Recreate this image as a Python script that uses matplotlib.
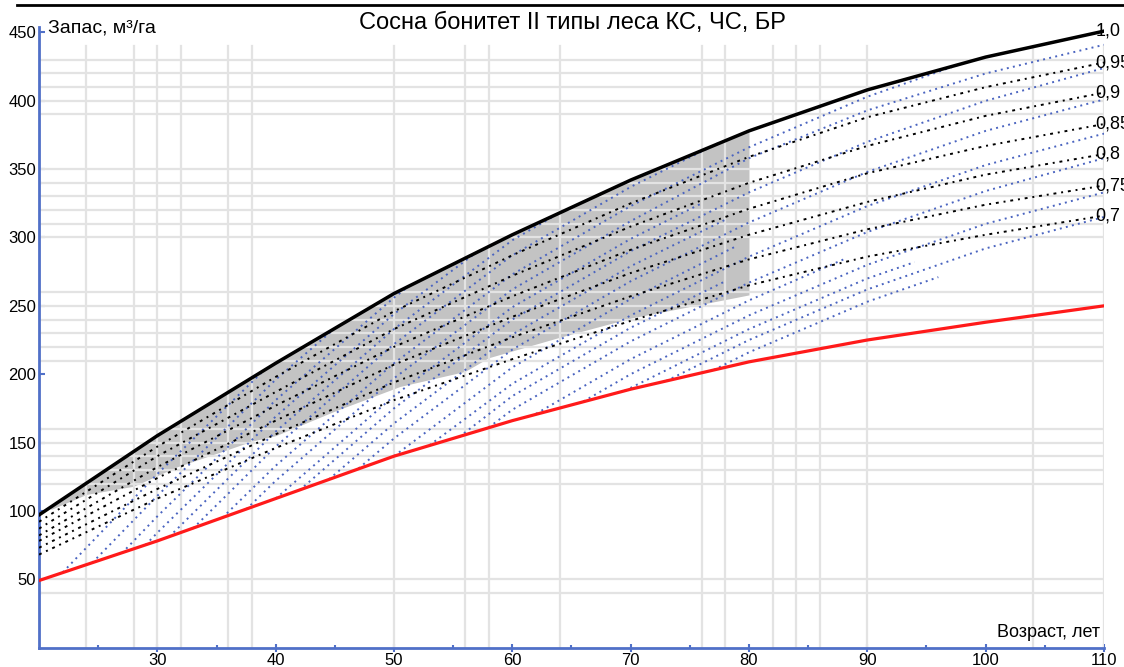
import numpy as np
import matplotlib.pyplot as plt
from matplotlib.lines import Line2D

plt.rcParams['font.family'] = ['Liberation Sans', 'DejaVu Sans']

# возраст, лет
ages = [20, 30, 40, 50, 60, 70, 80, 90, 100, 110]

# запас при полноте 1,0 и пониженных полнотах
full_10 = [97, 155, 208, 259, 302, 342, 378, 408, 432, 451]
full_095 = [92, 147, 198, 246, 287, 325, 359, 388, 410, 428]
full_090 = [87, 140, 187, 233, 272, 308, 340, 367, 389, 406]
full_085 = [82, 132, 177, 220, 257, 291, 321, 347, 367, 383]
full_080 = [78, 124, 166, 207, 242, 274, 302, 326, 346, 361]
full_075 = [73, 116, 156, 194, 227, 257, 284, 306, 324, 338]
full_070 = [68, 109, 146, 181, 211, 239, 265, 286, 302, 316]
density_labels = ['1,0', '0,95', '0,9', '0,85', '0,8', '0,75', '0,7']

# минимально допустимый запас
min_stock = [49, 78, 109, 140, 166, 189, 209, 225, 238, 250]

# нижняя граница зоны оптимальной полноты
zone_ages = [21, 24, 28, 31.6, 36, 38, 40, 45, 50.5, 56, 58, 64, 70, 80]
zone_low = [101, 112, 118, 132, 145, 151, 155, 173, 191, 202, 212, 227, 241, 258]

# рост запаса после рубок ухода
thin_ages = [
    [22, 30, 38.8],
    [24.5, 30, 40, 44.8],
    [27, 30, 40, 50, 51.2],
    [29, 30, 40, 50, 56.8],
    [31, 40, 50, 60, 64.4],
    [33, 40, 50, 60, 70, 77.4],
    [35.5, 40, 50, 60, 70, 80, 90, 97.9],
    [37.5, 40, 50, 60, 70, 80, 90, 100, 110],
    [40, 50, 60, 70, 76],
    [42, 50, 60, 70, 80, 90, 100, 110],
    [44.5, 50, 60, 70, 78],
    [47, 50, 60, 70, 80, 90, 100, 110],
    [50, 60, 70, 79],
    [53, 60, 70, 80, 90, 100, 110],
    [55.5, 60, 70, 78],
    [58, 60, 70, 80, 90, 100, 110],
    [62, 70, 80, 88],
    [66, 70, 80, 90, 100, 110],
    [69.5, 70, 80, 90, 94],
    [73, 80, 90, 100, 110],
    [77, 80, 90, 96],
]
thin_vals = [
    [55, 127, 201],
    [62, 111, 196, 232],
    [69, 96, 181, 256, 264],
    [75, 84, 169, 244, 288],
    [81, 158, 233, 298, 320],
    [87, 147, 222, 287, 337, 369],
    [95, 133, 208, 273, 323, 366, 403, 427],
    [101, 122, 197, 262, 312, 358, 393, 420, 441],
    [109, 184, 249, 299, 325],
    [115, 175, 240, 290, 333, 370, 400, 424],
    [123, 164, 229, 279, 313],
    [131, 153, 218, 268, 311, 348, 378, 401],
    [140, 205, 255, 294],
    [148, 193, 243, 286, 323, 353, 376],
    [154, 184, 234, 268],
    [161, 174, 224, 267, 304, 334, 358],
    [171, 211, 254, 284],
    [180, 200, 243, 280, 310, 333],
    [188, 190, 233, 270, 282],
    [195, 225, 262, 292, 315],
    [203, 216, 253, 271],
]

grid_x = [24, 28, 30, 32, 36, 38, 50, 56, 58, 64, 76, 78, 82, 84, 86, 90, 104, 110]
grid_y = [40, 50, 120, 130, 140, 150, 160, 210, 220, 230, 240, 250, 260,
          300, 310, 320, 330, 340, 350, 390, 400, 410, 420, 430]

axis_blue = '#5070c8'
dot_blue = '#4a64c0'

fig = plt.figure(figsize=(11.24, 6.67), dpi=100)
ax = fig.add_axes([0.0347, 0.0292, 0.9475, 0.9303])
ax.set_xlim(20, 110)
ax.set_ylim(0, 454)

# зона оптимальной полноты
zone_top = np.interp(zone_ages, ages, full_10)
ax.fill_between(zone_ages, zone_low, zone_top, color='#c3c3c3', lw=0, zorder=1)

for gx in grid_x:
    ax.axvline(gx, ymax=0.97, color='#e3e3e3', lw=1.6, zorder=2)
for gy in grid_y:
    ax.axhline(gy, color='#e3e3e3', lw=1.6, zorder=2)

for xs, ys in zip(thin_ages, thin_vals):
    ax.plot(xs, ys, color=dot_blue, lw=1.4, ls=(0, (1, 2.2)), zorder=3)

lower = [full_095, full_090, full_085, full_080, full_075, full_070]
for ys in lower:
    ax.plot(ages, ys, color='black', lw=1.4, ls=(0, (1.5, 2.5, 1, 2.5)), zorder=4)

ax.plot(ages, full_10, color='black', lw=2.5, zorder=5)
ax.plot(ages, min_stock, color='#ff1a1a', lw=2.3, zorder=5)

for lab, ys in zip(density_labels, [full_10] + lower):
    ax.text(109.3, ys[-1], lab, fontsize=13, ha='left', va='center',
            clip_on=False, zorder=6)

for side in ['top', 'right']:
    ax.spines[side].set_visible(False)
for side in ['left', 'bottom']:
    ax.spines[side].set_color(axis_blue)
    ax.spines[side].set_linewidth(2)

ax.set_xticks(range(30, 111, 10))
ax.set_xticks(range(25, 110, 10), minor=True)
ax.set_yticks(range(50, 451, 50))
ax.set_yticks([40, 120, 140, 160, 340, 420], minor=True)
ax.tick_params(axis='x', which='major', direction='inout', length=6, width=1.5,
               color=axis_blue, labelsize=12, pad=1)
ax.tick_params(axis='y', which='major', direction='in', length=4, width=1.5,
               color=axis_blue, labelsize=12, pad=2)
ax.tick_params(which='minor', direction='in', length=2, width=1.5, color=axis_blue)

fig.text(0.509, 0.965, 'Сосна бонитет II типы леса КС, ЧС, БР',
         fontsize=17, ha='center', va='center')
fig.text(0.0427, 0.958, 'Запас, м³/га', fontsize=14, ha='left', va='center')
fig.text(0.9786, 0.051, 'Возраст, лет', fontsize=13, ha='right', va='center')

fig.add_artist(Line2D([0.015, 1.0], [0.9925, 0.9925], color='black', lw=2))

fig.savefig('out.png', dpi=100)
